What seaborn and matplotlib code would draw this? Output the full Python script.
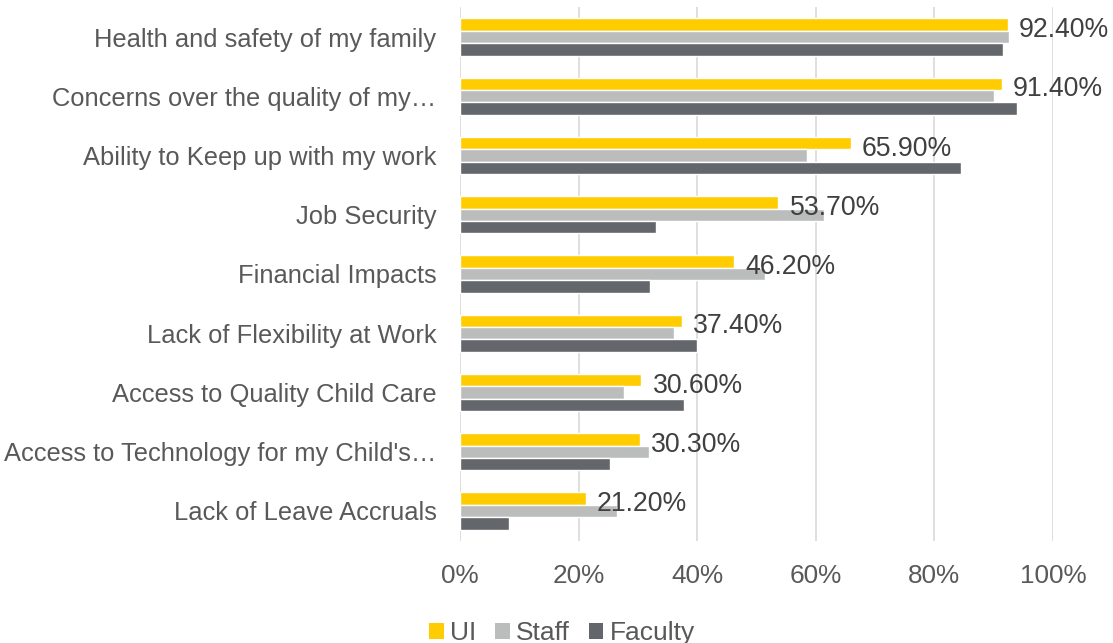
import matplotlib
matplotlib.use("Agg")
import matplotlib.pyplot as plt
import seaborn as sns
import pandas as pd
from matplotlib.patches import Patch

categories = [
    "Health and safety of my family",
    "Concerns over the quality of my\u2026",
    "Ability to Keep up with my work",
    "Job Security",
    "Financial Impacts",
    "Lack of Flexibility at Work",
    "Access to Quality Child Care",
    "Access to Technology for my Child's\u2026",
    "Lack of Leave Accruals",
]
ui_values = [92.4, 91.4, 65.9, 53.7, 46.2, 37.4, 30.6, 30.3, 21.2]
staff_values = [92.5, 90.1, 58.5, 61.3, 51.5, 36.1, 27.6, 31.8, 26.5]
faculty_values = [91.6, 94.0, 84.5, 33.1, 32.0, 39.9, 37.8, 25.3, 8.2]
series_names = ["UI", "Staff", "Faculty"]
tick_values = [0, 20, 40, 60, 80, 100]
tick_labels = ["0%", "20%", "40%", "60%", "80%", "100%"]

colors = ["#FFCC00", "#BBBCBC", "#63666A"]

rows = []
for name, vals in zip(series_names, [ui_values, staff_values, faculty_values]):
    for cat, v in zip(categories, vals):
        rows.append({"Category": cat, "Group": name, "Value": v})
df = pd.DataFrame(rows)

sns.set_theme(style="white")
plt.rcParams["font.family"] = ["Liberation Sans", "DejaVu Sans"]

fig = plt.figure(figsize=(11.13, 6.43), dpi=100)
ax = fig.add_axes([460 / 1113, 1 - 540.6 / 643, (1053 - 460) / 1113, (540.6 - 7.4) / 643])

sns.barplot(
    data=df, y="Category", x="Value", hue="Group", order=categories,
    hue_order=series_names, palette=colors, orient="h", width=0.63,
    saturation=1, ax=ax, legend=False,
)

ax.set_xlim(0, 100)
ax.set_xticks(tick_values)
ax.set_xticklabels(tick_labels)
ax.set_xlabel("")
ax.set_ylabel("")
ax.grid(axis="x", color="#D9D9D9", linewidth=1.2)
ax.set_axisbelow(True)
for s in ax.spines.values():
    s.set_visible(False)
ax.tick_params(axis="both", length=0, colors="#595959", labelsize=18.4)
ax.tick_params(axis="x", pad=17, labelsize=18.8)
ax.tick_params(axis="y", pad=17)

# value labels for the UI series
for patch, v in zip(ax.containers[0], ui_values):
    y = patch.get_y() + patch.get_height() / 2
    ax.annotate(f"{v:.2f}%", xy=(v, y), xytext=(8, -4), textcoords="offset points",
                ha="left", va="center", fontsize=19.2, color="#404040")

handles = [Patch(facecolor=c, edgecolor="none") for c in colors]
fig.legend(handles, series_names, loc="lower center", bbox_to_anchor=(0.505, -0.04),
           ncol=3, frameon=False, fontsize=19, handlelength=0.55, handleheight=0.55,
           handletextpad=0.25, columnspacing=0.7, labelcolor="#595959")

fig.savefig("out.png", dpi=100)
